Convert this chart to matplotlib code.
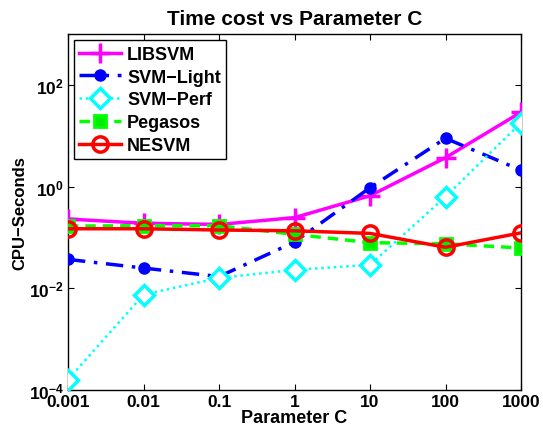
import matplotlib
matplotlib.use("Agg")
import matplotlib.pyplot as plt
from matplotlib.ticker import FixedLocator, NullLocator, FixedFormatter

plt.rcParams['font.family'] = ['Liberation Sans', 'DejaVu Sans']
plt.rcParams['font.weight'] = 'bold'
plt.rcParams['mathtext.fontset'] = 'custom'
plt.rcParams['mathtext.bf'] = 'Liberation Sans:bold'
plt.rcParams['mathtext.rm'] = 'Liberation Sans:bold'

C_values = [0.001, 0.01, 0.1, 1, 10, 100, 1000]
C_labels = ['0.001', '0.01', '0.1', '1', '10', '100', '1000']

libsvm = [0.23, 0.19, 0.18, 0.245, 0.66, 3.7, 29]
svm_light = [0.037, 0.025, 0.017, 0.081, 0.95, 8.9, 2.1]
svm_perf = [1.6e-4, 0.0075, 0.016, 0.023, 0.029, 0.63, 18]
pegasos = [0.167, 0.17, 0.17, 0.115, 0.079, 0.075, 0.062]
nesvm = [0.148, 0.148, 0.14, 0.135, 0.12, 0.064, 0.123]

fig = plt.figure(figsize=(5.43, 4.31), dpi=100)
ax = fig.add_axes([68/543, 1 - 391/431, (521-68)/543, (391-35)/431])

ax.plot(C_values, libsvm, color='#ff00ff', linestyle='-', linewidth=2.5,
        marker='+', markersize=14, markeredgewidth=2.5, label='LIBSVM', zorder=3)
ax.plot(C_values, svm_light, color='#0000ff', linestyle=(0, (5, 2.5, 1, 2.5)), linewidth=2.5,
        marker='o', markersize=8, markerfacecolor='#0000ff', label='SVM\u2212Light', zorder=3)
ax.plot(C_values, svm_perf, color='#00ffff', linestyle=(0, (1, 1.5)), linewidth=1.8,
        marker='D', markersize=10, markerfacecolor='white', markeredgewidth=2.5,
        label='SVM\u2212Perf', zorder=3)
ax.plot(C_values, pegasos, color='#00ff00', linestyle=(0, (3, 2)), linewidth=2.5,
        marker='s', markersize=9, markerfacecolor='#00ee00', markeredgewidth=2,
        label='Pegasos', zorder=3)
ax.plot(C_values, nesvm, color='#ff0000', linestyle='-', linewidth=2.5,
        marker='o', markersize=11, markerfacecolor='none', markeredgewidth=2.5,
        label='NESVM', zorder=4)

ax.set_xscale('log')
ax.set_yscale('log')
ax.set_xlim(0.001, 1000)
ax.set_ylim(1e-4, 1e3)

ax.xaxis.set_major_locator(FixedLocator(C_values))
ax.xaxis.set_major_formatter(FixedFormatter(C_labels))
ax.xaxis.set_minor_locator(NullLocator())
ax.yaxis.set_major_locator(FixedLocator([1e-4, 1e-2, 1e0, 1e2]))
ax.yaxis.set_major_formatter(FixedFormatter([r'$\mathbf{10^{-4}}$', r'$\mathbf{10^{-2}}$',
                                             r'$\mathbf{10^{0}}$', r'$\mathbf{10^{2}}$']))
ax.yaxis.set_minor_locator(NullLocator())

ax.tick_params(direction='in', length=4, width=0.8, top=True, right=True,
               labelsize=12.5, pad=3)
for lab in ax.get_xticklabels() + ax.get_yticklabels():
    lab.set_fontweight('bold')
for s in ax.spines.values():
    s.set_linewidth(1.0)

ax.set_title('Time cost vs Parameter C', fontsize=15, fontweight='bold', pad=7)
ax.set_xlabel('Parameter C', fontsize=13, fontweight='bold', labelpad=0)
ax.set_ylabel('CPU\u2212Seconds', fontsize=12, fontweight='bold', labelpad=1)

leg = ax.legend(loc='upper left', bbox_to_anchor=(0.013, 0.982), fontsize=13,
                frameon=True, fancybox=False, edgecolor='black', framealpha=1,
                handlelength=2.3, handletextpad=0.35, borderpad=0.3, labelspacing=0.32,
                borderaxespad=0)
leg.get_frame().set_linewidth(1.0)
for t in leg.get_texts():
    t.set_fontweight('bold')

fig.savefig('out.png', dpi=100)
